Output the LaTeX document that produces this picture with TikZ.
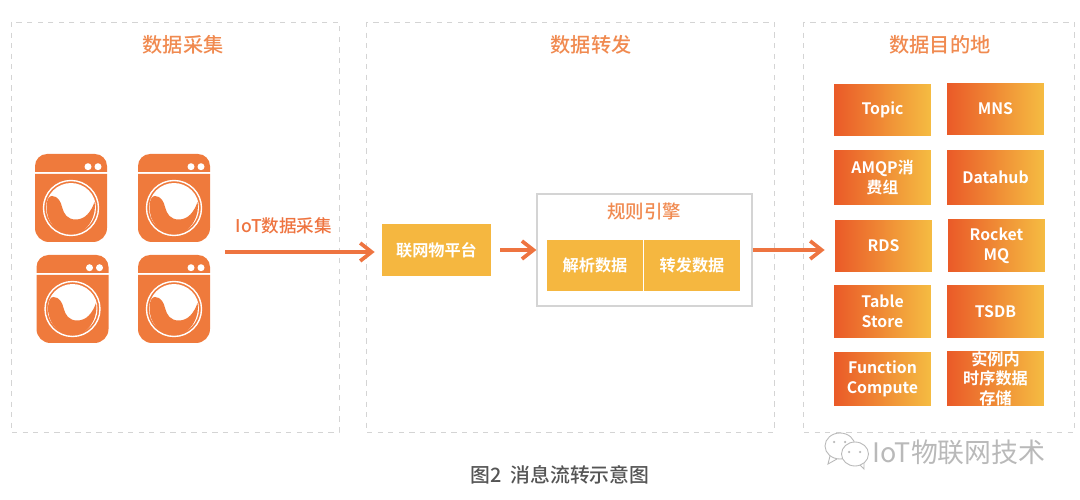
\documentclass[tikz,border=0pt]{standalone}
\usepackage{fontspec}
\setmainfont{Noto Sans CJK SC}[BoldFont={Noto Sans CJK SC Medium}]
\newfontfamily\heavyfont{Noto Sans CJK SC Bold}
\usetikzlibrary{arrows.meta}
\definecolor{washerorange}{HTML}{EF7A3C}
\definecolor{titleorange}{HTML}{F08A50}
\definecolor{arroworange}{HTML}{EE7440}
\definecolor{boxyellow}{HTML}{F5B740}
\definecolor{gradstart}{HTML}{EA5A28}
\definecolor{gradend}{HTML}{F5BC42}
\definecolor{panelgray}{HTML}{D4D4D4}
\definecolor{captiongray}{HTML}{555555}
\tikzset{
  panel/.style={draw=panelgray, dashed, line width=0.5pt, inner sep=0pt},
  paneltitle/.style={text=titleorange, font=\fontsize{11.5}{14}\selectfont\bfseries},
  yellowbox/.style={fill=boxyellow, text=white, inner sep=0pt, align=center, font=\fontsize{9.2}{11}\selectfont\heavyfont},
  destbox/.style={left color=gradstart, right color=gradend, text=white, inner sep=0pt, align=center,
    minimum width=1.94cm, font=\fontsize{9}{11.5}\selectfont\heavyfont},
  flowarrow/.style={draw=arroworange, line width=2.1pt, -{Straight Barb[length=2.3mm,width=3.6mm,line width=2.1pt]}},
  washer/.pic={
    \fill[washerorange] (0,18) [rounded corners=0.24cm] -- (0,0) -- (72,0) [sharp corners] -- (72,18) -- cycle;
    \fill[washerorange] (0,20) [sharp corners] -- (72,20) [rounded corners=0.28cm] -- (72,88) -- (0,88) [sharp corners] -- cycle;
    \fill[white] (53,12.7) circle (0.07cm);
    \fill[white] (63,12.7) circle (0.07cm);
    \draw[white, line width=0.8pt] (36,54) circle (0.55cm);
    \fill[white] (36,54) circle (0.5cm);
    \fill[washerorange] (11.5,52) .. controls (12,45) and (14,42) .. (17,42)
      .. controls (23,42) and (26,48) .. (27,53)
      .. controls (29,60) and (32,65.5) .. (41,65.5)
      .. controls (50,65.5) and (56,58) .. (59.5,48)
      .. controls (62,58) and (55,80) .. (36,80)
      .. controls (22,80) and (11,68) .. (11.5,52) -- cycle;
  }
}
\begin{document}
\begin{tikzpicture}[x=0.02cm, y=-0.02cm]
  \useasboundingbox (0,0) rectangle (1080,500);
  \draw[panel] (11,22) rectangle (339,432);
  \draw[panel] (366,22) rectangle (774,432);
  \draw[panel] (803,22) rectangle (1074,432);
  \node[paneltitle] (TitleCollect) at (183,45) {数据采集};
  \node[paneltitle] (TitleForward) at (591,45) {数据转发};
  \node[paneltitle] (TitleDest) at (940,45) {数据目的地};

  \pic at (35,154) {washer};
  \pic at (138,154) {washer};
  \pic at (36.5,255) {washer};
  \pic at (138,255) {washer};

  \coordinate (Source) at (225,252);
  \node[text=arroworange, font=\fontsize{10}{12}\selectfont\bfseries] (CollectLabel) at (284,226) {IoT数据采集};
  \node[yellowbox, minimum width=2.18cm, minimum height=1.04cm] (Platform) at (436.5,250) {联网物平台};
  \node[draw=panelgray, line width=0.7pt, minimum width=4.3cm, minimum height=2.24cm, inner sep=0pt] (Rule) at (644.5,250) {};
  \node[text=titleorange, font=\fontsize{10.5}{12}\selectfont\bfseries] (RuleTitle) at (644,211) {规则引擎};
  \node[yellowbox, minimum width=1.92cm, minimum height=1.02cm] (Parse) at (595,265.5) {解析数据};
  \node[yellowbox, minimum width=1.92cm, minimum height=1.02cm] (Relay) at (692,265.5) {转发数据};

  \node[destbox, minimum height=1.04cm] (Topic) at (882.5,110) {Topic};
  \node[destbox, minimum height=1.04cm] (MNS) at (995.5,109) {MNS};
  \node[destbox, minimum height=1.1cm] (AMQP) at (882.5,177.5) {AMQP消\\费组};
  \node[destbox, minimum height=1.1cm] (Datahub) at (995.5,177.5) {Datahub};
  \node[destbox, minimum height=1.04cm] (RDS) at (883.5,246) {RDS};
  \node[destbox, minimum height=1.06cm] (Rocket) at (996.5,245.5) {Rocket\\MQ};
  \node[destbox, minimum height=1.06cm] (Table) at (882.5,311.5) {Table\\Store};
  \node[destbox, minimum height=1.06cm] (TSDB) at (995.5,311.5) {TSDB};
  \node[destbox, minimum height=1.08cm] (Function) at (882.5,379) {Function\\Compute};
  \node[destbox, minimum height=1.1cm, font=\fontsize{9.2}{11}\selectfont\heavyfont] (Series) at (995.5,378.5) {实例内\\时序数据\\存储};

  \draw[flowarrow, shorten >=0.14cm] (Source) -- (Source -| Platform.west);
  \draw[flowarrow, shorten <=0.18cm] (Platform.east) -- (Rule.west);
  \draw[flowarrow, shorten >=0.2cm] (Rule.east) -- (RDS.west |- Rule.east);

  % watermark
  \draw[gray!55, line width=0.5pt, fill=white] (840,446) ellipse (0.3cm and 0.26cm);
  \draw[gray!55, line width=0.5pt] (830,456) -- (828,464) -- (837,459);
  \draw[gray!55, line width=0.5pt, fill=white] (855,454) ellipse (0.27cm and 0.24cm);
  \draw[gray!55, line width=0.5pt] (860,465) -- (864,469) -- (864,463);
  \fill[gray!55] (834,442) circle (0.025cm) (845,442) circle (0.025cm) (849,452) circle (0.025cm) (860,452) circle (0.025cm);
  \node[text=gray!55, font=\fontsize{15.3}{18}\selectfont] (Watermark) at (959,452) {IoT物联网技术};
  \node[text=captiongray, font=\fontsize{11.3}{13}\selectfont\bfseries] (Caption) at (560,475) {图2\ \ 消息流转示意图};
\end{tikzpicture}
\end{document}
